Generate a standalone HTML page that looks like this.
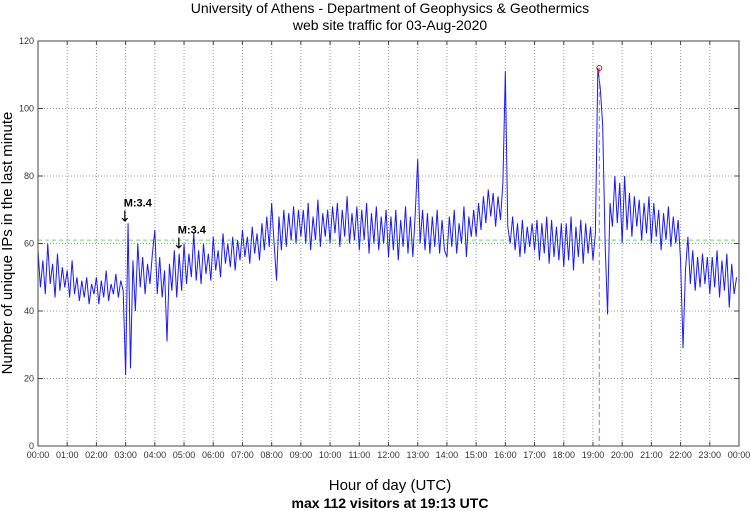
<!DOCTYPE html>
<html><head><meta charset="utf-8"><style>
body{margin:0;background:#fff;}
svg{display:block;font-family:"Liberation Sans",sans-serif;}
</style></head><body>
<svg id="chart" width="750" height="511">
<text x="390" y="13" font-size="14" text-anchor="middle">University of Athens - Department of Geophysics &amp; Geothermics</text>
<text x="390" y="30" font-size="14" text-anchor="middle">web site traffic for 03-Aug-2020</text>
<g id="grid"></g>
<g id="marks"></g>
<g id="axes"></g>
<text x="390" y="490" font-size="15" text-anchor="middle">Hour of day (UTC)</text>
<text x="390" y="508" font-size="14" font-weight="bold" text-anchor="middle">max 112 visitors at 19:13 UTC</text>
<text transform="translate(12,243) rotate(-90)" font-size="15" text-anchor="middle">Number of unique IPs in the last minute</text>
</svg>
<script>
const hourLabels=["00:00","01:00","02:00","03:00","04:00","05:00","06:00","07:00","08:00","09:00","10:00","11:00","12:00","13:00","14:00","15:00","16:00","17:00","18:00","19:00","20:00","21:00","22:00","23:00","00:00"];
const yTicks=[0,20,40,60,80,100,120];
const visitors=[
58,47,55,45,60,48,54,44,57,46,53,47,
52,44,55,45,50,43,49,44,50,42,48,45,
50,42,49,44,52,43,48,45,51,44,49,46,
21,66,23,55,40,60,47,56,45,54,48,57,
64,45,56,44,52,31,54,46,58,44,57,46,
60,48,57,50,63,49,58,48,60,51,57,49,
62,52,58,50,63,54,60,53,62,52,61,55,
64,56,62,54,65,57,63,55,66,58,68,59,
72,60,49,68,58,70,59,69,61,71,60,70,
62,70,60,72,58,68,61,73,59,69,62,70,
60,71,63,72,59,70,62,74,60,69,61,71,
58,70,61,72,57,69,60,71,58,68,60,70,
56,68,58,70,55,67,59,71,57,68,56,69,
85,60,70,58,69,57,68,59,70,57,67,58,
56,68,59,70,57,66,60,71,56,68,62,70,
62,72,64,74,66,76,68,75,65,74,67,78,
111,65,60,68,58,66,56,67,57,65,59,66,
58,67,55,66,57,68,54,67,56,65,55,66,
53,66,55,68,52,65,56,67,54,66,57,65,
55,63,112,106,95,60,39,72,65,80,66,78,
60,80,64,75,62,74,65,73,61,72,63,74,
60,72,62,70,58,69,61,71,59,68,60,67,
55,29,52,62,48,58,46,56,47,57,48,56,
45,56,47,58,44,55,46,57,41,54,45,50];
const averageValue=61;
const quakeTimes=[2.97,4.82];
const quakeLabels=["M:3.4","M:3.4"];
const quakeValues=[66,58];

const NS="http://www.w3.org/2000/svg";
const X0=38,X1=739,Y0=446,Y1=41;
const xs=h=>X0+(X1-X0)*h/24;
const ys=v=>Y0-(Y0-Y1)*v/120;
function mk(tag,attrs,parent){const e=document.createElementNS(NS,tag);for(const k in attrs)e.setAttribute(k,attrs[k]);parent.appendChild(e);return e;}
const grid=document.getElementById('grid'),marks=document.getElementById('marks'),axes=document.getElementById('axes');
hourLabels.forEach((l,i)=>{
  const x=xs(i);
  if(i>0&&i<24){const g=mk('line',{x1:x,x2:x,y1:Y1,y2:Y0,stroke:'#999','stroke-dasharray':'1,2'},grid);
  
  }
  mk('line',{x1:x,x2:x,y1:Y0,y2:Y0-4,stroke:'#444'},axes);
  mk('line',{x1:x,x2:x,y1:Y1,y2:Y1+4,stroke:'#444'},axes);
  const t=mk('text',{x:x,y:Y0+12,'font-size':9,'text-anchor':'middle',fill:'#333'},axes);
  t.textContent=l;
  
  
});
yTicks.forEach(v=>{
  const y=ys(v);
  if(v>0&&v<120){const g=mk('line',{x1:X0,x2:X1,y1:y,y2:y,stroke:'#999','stroke-dasharray':'1,2'},grid);
  
  }
  mk('line',{x1:X0,x2:X0+5,y1:y,y2:y,stroke:'#444'},axes);
  mk('line',{x1:X1,x2:X1-5,y1:y,y2:y,stroke:'#444'},axes);
  const t=mk('text',{x:X0-4,y:y+3,'font-size':9,'text-anchor':'end',fill:'#333'},axes);
  t.textContent=v;
  
  
});
const frame=mk('rect',{x:X0,y:Y1,width:X1-X0,height:Y0-Y1,fill:'none',stroke:'#444'},axes);


const avg=mk('line',{x1:X0,x2:X1,y1:ys(averageValue),y2:ys(averageValue),stroke:'#66dd66','stroke-dasharray':'4,3'},marks);


const step=24/visitors.length;
let d='';visitors.forEach((v,i)=>{d+=(i?'L':'M')+xs(i*step).toFixed(2)+','+ys(v).toFixed(2);});
const line=mk('path',{d:d,fill:'none',stroke:'#1a1aff','stroke-width':1},marks);


let mi=0;visitors.forEach((v,i)=>{if(v>visitors[mi])mi=i;});
const mx=xs(19+13/60);
const vl=mk('line',{x1:mx,x2:mx,y1:ys(visitors[mi]),y2:Y0,stroke:'#bb7777','stroke-dasharray':'5,3'},marks);


const mc=mk('circle',{cx:mx,cy:ys(visitors[mi]),r:2.5,fill:'none',stroke:'red'},marks);


quakeTimes.forEach((h,i)=>{
  const x=xs(h),y=ys(quakeValues[i]);
  const a=mk('text',{x:x,y:y-2,'font-size':15,'text-anchor':'middle','font-family':'DejaVu Sans'},marks);
  a.textContent='↓';
  
  
  const t=mk('text',{x:x-1,y:y-17,'font-size':11,'font-weight':'bold'},marks);
  t.textContent=quakeLabels[i];
  
  
});
</script>
</body></html>
